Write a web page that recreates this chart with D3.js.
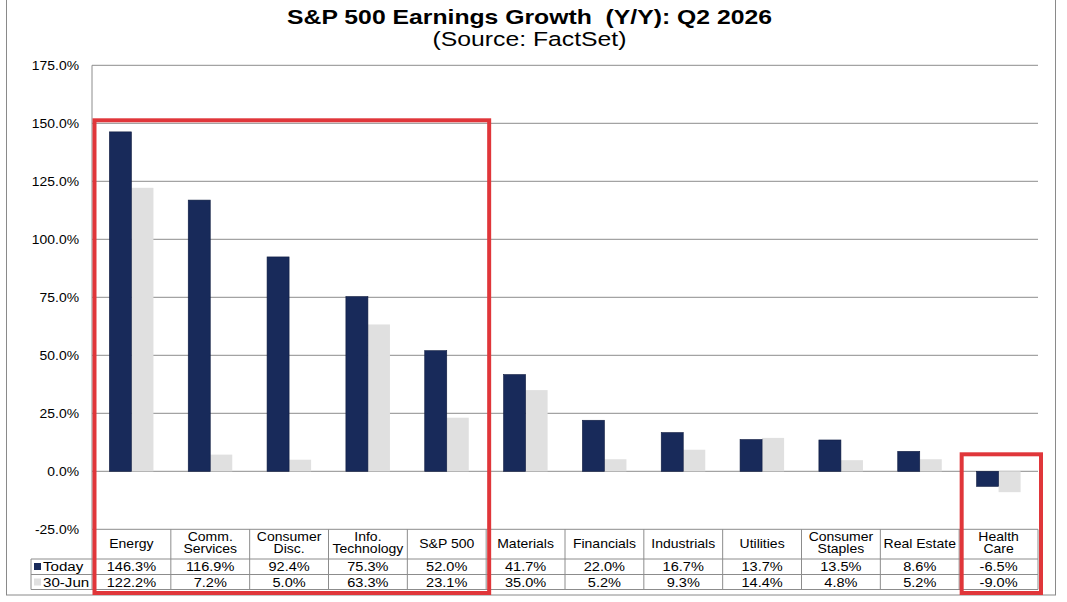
<!DOCTYPE html>
<html>
<head>
<meta charset="utf-8">
<script src="https://cdn.jsdelivr.net/npm/d3@7"></script>
<style>
	body { margin: 0; background: #fff; }
	svg { display: block; font-family: "Liberation Sans", Arial, sans-serif; }
</style>
</head>
<body>
<div id="chart-div"></div>
<script>

const categories = ["Energy", "Comm.\nServices", "Consumer\nDisc.", "Info.\nTechnology", "S&P 500",
	"Materials", "Financials", "Industrials", "Utilities", "Consumer\nStaples", "Real Estate", "Health\nCare"];
const todayValues = [146.3, 116.9, 92.4, 75.3, 52.0, 41.7, 22.0, 16.7, 13.7, 13.5, 8.6, -6.5];
const juneValues = [122.2, 7.2, 5.0, 63.3, 23.1, 35.0, 5.2, 9.3, 14.4, 4.8, 5.2, -9.0];
const seriesNames = ["Today", "30-Jun"];
const yTicks = [-25, 0, 25, 50, 75, 100, 125, 150, 175];

const width = 1067, height = 602;
const navy = "#182a5a", light = "#e0e0e0", grid = "#8c8c8c", red = "#e0363a";
const stretch = 1.12; // original text is a bit wide

const svg = d3.select("#chart-div")
	.append("svg")
	.attr("width", width)
	.attr("height", height)
	.attr("viewBox", `0 0 ${width} ${height}`);

// outer frame
svg.append("rect")
	.attr("x", 6.5).attr("y", -2)
	.attr("width", 1049).attr("height", 597)
	.attr("fill", "none")
	.attr("stroke", "#8a8a8a");

const titleG = svg.append("g")
	.attr("transform", "translate(529.5,0) scale(1.27,1)");
titleG.append("text")
	.attr("x", 0).attr("y", 24)
	.attr("text-anchor", "middle")
	.style("font-size", "19.5px")
	.style("font-weight", "bold")
	.style("white-space", "pre")
	.text("S&P 500 Earnings Growth  (Y/Y): Q2 2026");
titleG.append("text")
	.attr("x", 0).attr("y", 46.5)
	.attr("text-anchor", "middle")
	.style("font-size", "19.5px")
	.text("(Source: FactSet)");

const xScale = d3.scaleBand()
	.domain(categories)
	.range([92, 1038]);
const inner = d3.scaleBand()
	.domain(seriesNames)
	.range([0, xScale.bandwidth()])
	.paddingInner(0)
	.paddingOuter(0.79);
const yScale = d3.scaleLinear()
	.domain([-25, 175])
	.range([529.3, 65.3]);
const mid = c => xScale(c) + xScale.bandwidth() / 2;

// gridlines
svg.append("g")
	.selectAll("line")
	.data(yTicks)
	.enter()
	.append("line")
	.attr("x1", 92).attr("x2", 1038)
	.attr("y1", d => yScale(d)).attr("y2", d => yScale(d))
	.attr("stroke", grid)
	.attr("stroke-width", 1);

svg.append("line")
	.attr("x1", 92).attr("x2", 92)
	.attr("y1", yScale(175)).attr("y2", yScale(-25))
	.attr("stroke", grid);

const yAxis = d3.axisLeft(yScale)
	.tickValues(yTicks)
	.tickSize(0)
	.tickPadding(0)
	.tickFormat(d => d.toFixed(1) + "%");
svg.append("g")
	.attr("transform", "translate(79,0)")
	.call(yAxis)
	.call(g => g.select(".domain").remove())
	.selectAll("text")
	.attr("transform", "scale(1.07,1)")
	.style("font-family", "Liberation Sans, Arial, sans-serif")
	.style("font-size", "13px")
	.attr("fill", "#000");

// bars
const barData = categories.map((c, i) => ({ cat: c, today: todayValues[i], june: juneValues[i] }));
const groups = svg.append("g")
	.selectAll("g")
	.data(barData)
	.enter()
	.append("g")
	.attr("transform", d => `translate(${xScale(d.cat)},0)`);

groups.append("rect")
	.attr("x", inner("30-Jun"))
	.attr("y", d => yScale(Math.max(0, d.june)))
	.attr("width", inner.bandwidth())
	.attr("height", d => Math.abs(yScale(d.june) - yScale(0)))
	.attr("fill", light);

groups.append("rect")
	.attr("x", inner("Today"))
	.attr("y", d => yScale(Math.max(0, d.today)))
	.attr("width", inner.bandwidth())
	.attr("height", d => Math.abs(yScale(d.today) - yScale(0)))
	.attr("fill", navy)
	.attr("stroke", "#0f1c40")
	.attr("stroke-width", 0.6);

// data table
const tTop = yScale(-25), tHead = 559, tRow1 = 574.5, tBottom = 589.5, labelLeft = 31;
const table = svg.append("g").attr("stroke", grid).attr("stroke-width", 1);
[tHead, tRow1, tBottom].forEach(yv => {
	table.append("line").attr("x1", labelLeft).attr("x2", 1038).attr("y1", yv).attr("y2", yv);
});
table.append("line").attr("x1", labelLeft).attr("x2", labelLeft).attr("y1", tHead).attr("y2", tBottom);
xScale.domain().forEach(c => {
	table.append("line").attr("x1", xScale(c)).attr("x2", xScale(c)).attr("y1", tTop).attr("y2", tBottom);
});
table.append("line").attr("x1", 1038).attr("x2", 1038).attr("y1", tTop).attr("y2", tBottom);

// category labels
const catText = svg.append("g")
	.selectAll("text")
	.data(categories)
	.enter()
	.append("text")
	.attr("text-anchor", "middle")
	.style("font-size", "12.5px")
	.attr("transform", d => `translate(${mid(d)},${d.includes("\n") ? 541 : 548}) scale(${stretch},1)`);
catText.each(function(d) {
	d3.select(this).selectAll("tspan")
		.data(d.split("\n"))
		.enter()
		.append("tspan")
		.attr("x", 0)
		.attr("dy", (l, i) => i === 0 ? 0 : 12.5)
		.text(l => l);
});

// values rows
const rows = [
	{ name: "Today", values: todayValues, color: navy, y: tHead + 12 },
	{ name: "30-Jun", values: juneValues, color: light, y: tRow1 + 12 }
];
rows.forEach(r => {
	svg.append("g")
		.selectAll("text")
		.data(r.values)
		.enter()
		.append("text")
		.attr("text-anchor", "middle")
		.style("font-size", "13px")
		.attr("transform", (d, i) => `translate(${mid(categories[i])},${r.y}) scale(${stretch},1)`)
		.text(d => d.toFixed(1) + "%");
	svg.append("rect")
		.attr("x", 34).attr("y", r.y - 8)
		.attr("width", 7).attr("height", 7)
		.attr("fill", r.color);
	svg.append("text")
		.attr("transform", `translate(43,${r.y}) scale(${stretch},1)`)
		.style("font-size", "13.5px")
		.text(r.name);
});

// highlight boxes
const highlights = [
	{ from: "Energy", to: "S&P 500", top: yScale(150) - 3 },
	{ from: "Health\nCare", to: "Health\nCare", top: yScale(0) - 17 }
];
svg.append("g")
	.selectAll("rect")
	.data(highlights)
	.enter()
	.append("rect")
	.attr("x", d => xScale(d.from) + 2.5)
	.attr("y", d => d.top)
	.attr("width", d => xScale(d.to) + xScale.bandwidth() - xScale(d.from) + 0.5)
	.attr("height", d => 593 - d.top)
	.attr("fill", "none")
	.attr("stroke", red)
	.attr("stroke-width", 4);

</script>
</body>
</html>
